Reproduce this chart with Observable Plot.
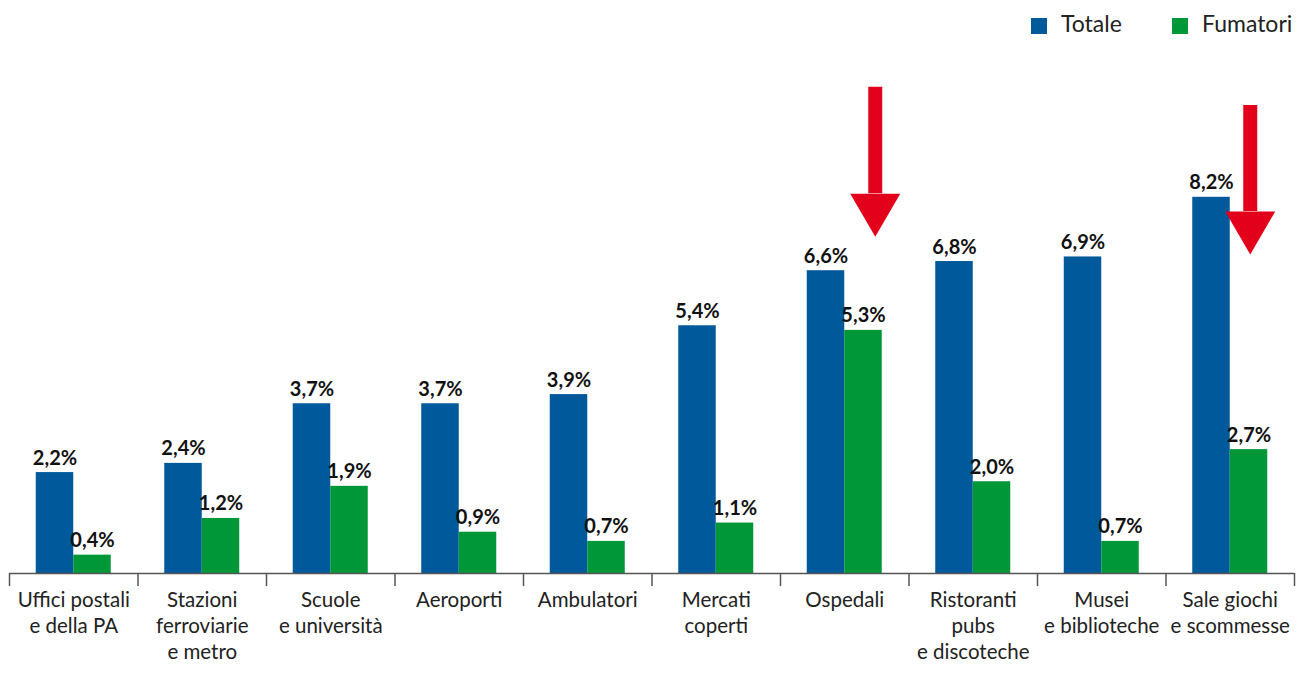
<!DOCTYPE html>
<html><head><meta charset="utf-8">
<script src="https://cdn.jsdelivr.net/npm/d3@7"></script>
<script src="https://cdn.jsdelivr.net/npm/@observablehq/plot@0.6"></script>
<style>
html,body{margin:0;padding:0;background:#fff;overflow:hidden;}
#legend{height:50px;position:relative;font-family:Lato,"Noto Sans",sans-serif;font-size:23px;color:#222;}
#legend .sw{position:absolute;top:18px;width:16px;height:16px;}
#legend .lb{position:absolute;top:9px;line-height:28px;}
#chart svg{display:block;}
</style></head><body>
<div id="legend"></div>
<div id="chart"></div>
<script>
const categories = ["Uffici postali\ne della PA", "Stazioni\nferroviarie\ne metro", "Scuole\ne università", "Aeroporti", "Ambulatori", "Mercati\ncoperti", "Ospedali", "Ristoranti\npubs\ne discoteche", "Musei\ne biblioteche", "Sale giochi\ne scommesse"];
const totale = [2.2, 2.4, 3.7, 3.7, 3.9, 5.4, 6.6, 6.8, 6.9, 8.2];
const fumatori = [0.4, 1.2, 1.9, 0.9, 0.7, 1.1, 5.3, 2.0, 0.7, 2.7];
const seriesNames = ["Totale", "Fumatori"];
const seriesColors = ["#00599a", "#009739"];
const arrowCats = ["Ospedali", "Sale giochi\ne scommesse"];
const arrowTop = [10.6, 10.2];
const arrowHeadBase = [8.28, 7.89];
const arrowColor = "#e2001a";

// legend
const legend = document.getElementById("legend");
const legendPos = [[1031, 1061], [1172, 1202]];
seriesNames.forEach((n, i) => {
  const sw = document.createElement("div");
  sw.className = "sw"; sw.style.left = legendPos[i][0] + "px"; sw.style.background = seriesColors[i];
  const lb = document.createElement("div");
  lb.className = "lb"; lb.style.left = legendPos[i][1] + "px"; lb.textContent = n;
  legend.append(sw, lb);
});

const W = 1298, H = 625, ml = 9, mr = 4, mt = 0, mb = 102;
const bw = (W - ml - mr) / categories.length;
const barW = 37.5;
const data = categories.map((c, i) => ({cat: c, totale: totale[i], fumatori: fumatori[i]}));
const arrows = arrowCats.map((c, i) => ({cat: c, top: arrowTop[i], base: arrowHeadBase[i]}));
const fmt = v => d3.format(".1f")(v).replace(".", ",") + "%";
const arrowDx = [30.5, 20];

const arrowMarks = arrows.flatMap((a, i) => [
  Plot.ruleX([a], {x: "cat", y1: "top", y2: "base", dx: arrowDx[i], stroke: arrowColor, strokeWidth: 14}),
  Plot.vector([a], {x: "cat", y: "base", dx: arrowDx[i], rotate: 180, length: 43, shape: "spike", r: 25, anchor: "start", fill: arrowColor, stroke: "none"})
]);

const labelStyle = {dy: -8, lineAnchor: "bottom", fontWeight: "bold", fontSize: 20, fill: "#111"};

const plot = Plot.plot({
  width: W, height: H,
  marginLeft: ml, marginRight: mr, marginTop: mt, marginBottom: mb,
  x: {domain: categories, padding: 0, round: false, axis: null},
  y: {domain: [0, 11.4], axis: null},
  style: {fontFamily: "Lato, 'Noto Sans', sans-serif", background: "white", overflow: "visible"},
  marks: [
    Plot.barY(data, {x: "cat", y: "totale", fill: seriesColors[0], insetLeft: bw / 2 - barW, insetRight: bw / 2}),
    Plot.barY(data, {x: "cat", y: "fumatori", fill: seriesColors[1], insetLeft: bw / 2, insetRight: bw / 2 - barW}),
    Plot.text(data, {x: "cat", y: "totale", text: d => fmt(d.totale), dx: -barW / 2, ...labelStyle}),
    Plot.text(data, {x: "cat", y: "fumatori", text: d => fmt(d.fumatori), dx: barW / 2, ...labelStyle}),
    Plot.ruleY([0], {stroke: "#555", strokeWidth: 1.5}),
    Plot.ruleX(categories, {x: d => d, dx: -bw / 2, insetTop: H - mb - mt, insetBottom: -13, stroke: "#555", strokeWidth: 1.5}),
    Plot.ruleX([categories[categories.length - 1]], {x: d => d, dx: bw / 2, insetTop: H - mb - mt, insetBottom: -13, stroke: "#555", strokeWidth: 1.5}),
    Plot.text(categories, {x: d => d, text: d => d, frameAnchor: "bottom", lineAnchor: "top", dy: 15, fontSize: 20.5, lineHeight: 1.27, fill: "#222"}),
    ...arrowMarks
  ]
});
document.getElementById("chart").append(plot);
</script>
</body></html>
